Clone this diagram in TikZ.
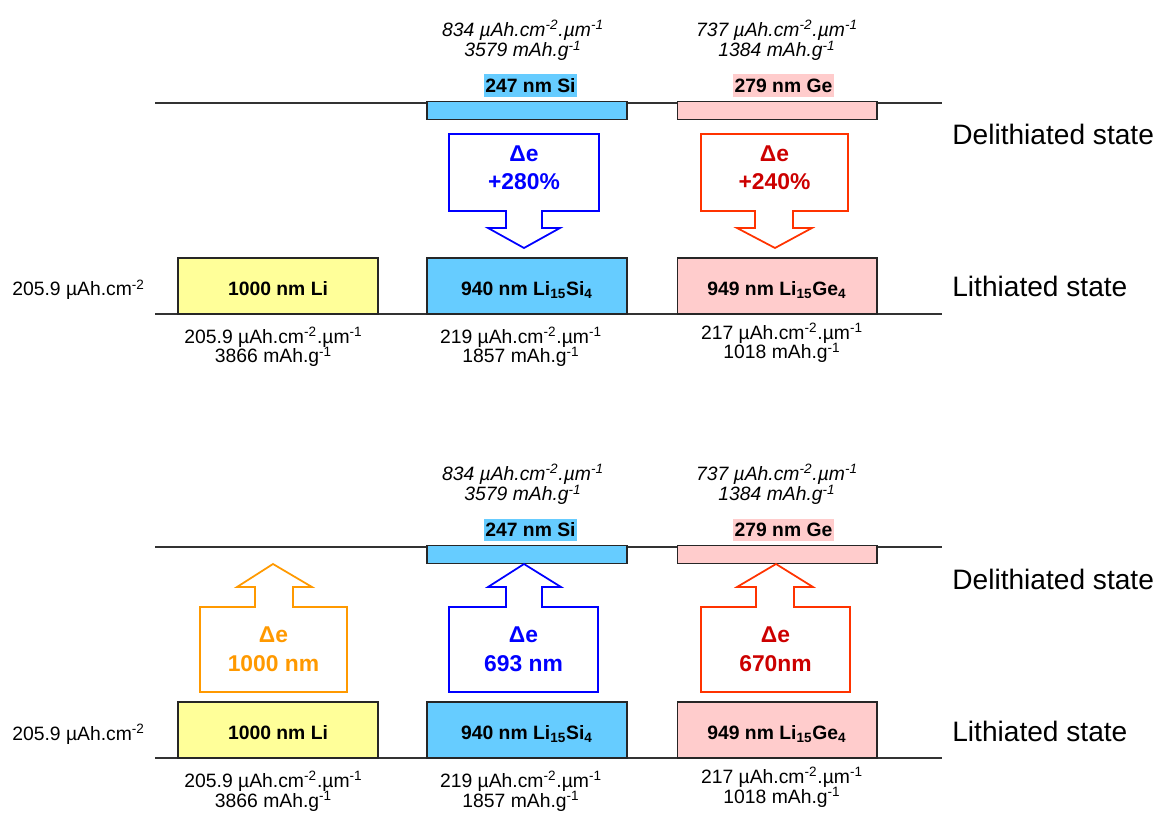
\documentclass[tikz,border=0pt]{standalone}
\usepackage{fontspec}
\setmainfont{Liberation Sans}
\usepackage{tikz}
\usepackage{xcolor}
\usetikzlibrary{
    arrows.meta,
    positioning,
    calc
}
\definecolor{lifill}{HTML}{FFFF99}
\definecolor{sifill}{HTML}{66CCFF}
\definecolor{gefill}{HTML}{FFCCCC}
\definecolor{liline}{HTML}{FF9900}
\definecolor{siline}{HTML}{0000FF}
\definecolor{geline}{HTML}{FF3300}
\definecolor{getext}{HTML}{CC0000}

\begin{document}
\begin{tikzpicture}[x=0.02cm, y=-0.02cm,
    layer/.style={rectangle, draw=black!85, line width=0.6pt, minimum width=4cm, inner sep=0pt,
                font=\bfseries\fontsize{11}{13}\selectfont, text height=2ex, text depth=0pt},
    thick-layer/.style={layer, minimum height=1.12cm},
    thin-layer/.style={layer, minimum height=0.29cm},
    film-label/.style={rectangle, inner sep=0pt, minimum height=0.46cm, text height=1.38ex, text depth=0pt,
                font=\bfseries\fontsize{11}{13}\selectfont},
    state-line/.style={draw=black!80, line width=0.8pt},
    state-label/.style={anchor=base west, inner sep=0pt, font=\fontsize{16}{19}\selectfont},
    info/.style={anchor=base, align=center, inner sep=0pt,
                font={\fontsize{11}{11.3}\selectfont\lineskiplimit=-10pt\relax}},
    info-italic/.style={info, font={\itshape\fontsize{11}{11.9}\selectfont\lineskiplimit=-10pt\relax}},
    change-arrow/.style={line width=1pt, line join=miter},
    change-label/.style={anchor=base, align=center, inner sep=0pt, font=\bfseries\fontsize{13}{16.5}\selectfont}]
    \useasboundingbox (0,0) rectangle (1159,813);

    % upper half: lithiation
    \draw[state-line] (155,103) -- (942,103);
    \draw[state-line] (155,314) -- (942,314);
    \node[info-italic] (si-spec) at (523,57) {834 µAh.cm\textsuperscript{-2}.µm\textsuperscript{-1}\\3579 mAh.g\textsuperscript{-1}};
    \node[info-italic] (ge-spec) at (777,57) {737 µAh.cm\textsuperscript{-2}.µm\textsuperscript{-1}\\1384 mAh.g\textsuperscript{-1}};
    \node[film-label, fill=sifill, minimum width=1.86cm] (si-film) at (530.5,86) {247 nm Si};
    \node[film-label, fill=gefill, minimum width=2.02cm] (ge-film) at (783.5,86) {279 nm Ge};
    \node[thin-layer, fill=sifill] (si-thin) at (527,110.5) {};
    \node[thin-layer, fill=gefill] (ge-thin) at (777,110.5) {};
    \node[state-label] (deli-state) at (952,145) {Delithiated state};
    \draw[change-arrow, draw=siline] (449,134) -- (599,134) -- (599,211) -- (542,211) -- (542,228) -- (560,228)
        -- (524,248) -- (488,228) -- (506,228) -- (506,211) -- (449,211) -- cycle;
    \draw[change-arrow, draw=geline] (701,134) -- (848,134) -- (848,211) -- (793,211) -- (793,228) -- (812,228)
        -- (775,248) -- (737,228) -- (755,228) -- (755,211) -- (701,211) -- cycle;
    \node[change-label, text=siline] (si-gain) at (524,190) {Δe\\+280\%};
    \node[change-label, text=getext] (ge-gain) at (774.5,190) {Δe\\+240\%};
    \node[thick-layer, fill=lifill] (li-thick) at (278,286) {1000 nm Li};
    \node[thick-layer, fill=sifill] (si-thick) at (527,286) {940 nm Li\textsubscript{15}Si\textsubscript{4}};
    \node[thick-layer, fill=gefill] (ge-thick) at (777,286) {949 nm Li\textsubscript{15}Ge\textsubscript{4}};
    \node[state-label] (li-state) at (952,297) {Lithiated state};
    \node[info, anchor=base west] (li-areal) at (12,296) {205.9 µAh.cm\textsuperscript{-2}};
    \node[info] (li-spec) at (273.5,363) {205.9 µAh.cm\textsuperscript{-2}.µm\textsuperscript{-1}\\3866 mAh.g\textsuperscript{-1}};
    \node[info] (si-low-spec) at (521,363) {219 µAh.cm\textsuperscript{-2}.µm\textsuperscript{-1}\\1857 mAh.g\textsuperscript{-1}};
    \node[info] (ge-low-spec) at (782,359) {217 µAh.cm\textsuperscript{-2}.µm\textsuperscript{-1}\\1018 mAh.g\textsuperscript{-1}};

    % lower half: delithiation
    \begin{scope}[shift={(0,444)}]
    \draw[state-line] (155,103) -- (942,103);
    \draw[state-line] (155,314) -- (942,314);
    \node[info-italic] (si-spec-b) at (523,57) {834 µAh.cm\textsuperscript{-2}.µm\textsuperscript{-1}\\3579 mAh.g\textsuperscript{-1}};
    \node[info-italic] (ge-spec-b) at (777,57) {737 µAh.cm\textsuperscript{-2}.µm\textsuperscript{-1}\\1384 mAh.g\textsuperscript{-1}};
    \node[film-label, fill=sifill, minimum width=1.86cm] (si-film-b) at (530.5,86) {247 nm Si};
    \node[film-label, fill=gefill, minimum width=2.02cm] (ge-film-b) at (783.5,86) {279 nm Ge};
    \node[thin-layer, fill=sifill] (si-thin-b) at (527,110.5) {};
    \node[thin-layer, fill=gefill] (ge-thin-b) at (777,110.5) {};
    \node[state-label] (deli-state-b) at (952,145) {Delithiated state};
    \draw[change-arrow, draw=liline] (200,248) -- (347,248) -- (347,163) -- (293,163) -- (293,143) -- (312,143)
        -- (273,120) -- (237,143) -- (255,143) -- (255,163) -- (200,163) -- cycle;
    \draw[change-arrow, draw=siline] (449,248) -- (598,248) -- (598,163) -- (542,163) -- (542,143) -- (561,143)
        -- (524,120) -- (488,143) -- (506,143) -- (506,163) -- (449,163) -- cycle;
    \draw[change-arrow, draw=geline] (701,248) -- (850,248) -- (850,163) -- (794,163) -- (794,143) -- (813,143)
        -- (776,120) -- (737,143) -- (756,143) -- (756,163) -- (701,163) -- cycle;
    \node[change-label, text=liline] (li-loss) at (273.5,227) {Δe\\1000 nm};
    \node[change-label, text=siline] (si-loss) at (523.5,227) {Δe\\693 nm};
    \node[change-label, text=getext] (ge-loss) at (775.5,227) {Δe\\670nm};
    \node[thick-layer, fill=lifill] (li-thick-b) at (278,286) {1000 nm Li};
    \node[thick-layer, fill=sifill] (si-thick-b) at (527,286) {940 nm Li\textsubscript{15}Si\textsubscript{4}};
    \node[thick-layer, fill=gefill] (ge-thick-b) at (777,286) {949 nm Li\textsubscript{15}Ge\textsubscript{4}};
    \node[state-label] (li-state-b) at (952,297) {Lithiated state};
    \node[info, anchor=base west] (li-areal-b) at (12,296) {205.9 µAh.cm\textsuperscript{-2}};
    \node[info] (li-spec-b) at (273.5,363) {205.9 µAh.cm\textsuperscript{-2}.µm\textsuperscript{-1}\\3866 mAh.g\textsuperscript{-1}};
    \node[info] (si-low-spec-b) at (521,363) {219 µAh.cm\textsuperscript{-2}.µm\textsuperscript{-1}\\1857 mAh.g\textsuperscript{-1}};
    \node[info] (ge-low-spec-b) at (782,359) {217 µAh.cm\textsuperscript{-2}.µm\textsuperscript{-1}\\1018 mAh.g\textsuperscript{-1}};
    \end{scope}
\end{tikzpicture}
\end{document}
